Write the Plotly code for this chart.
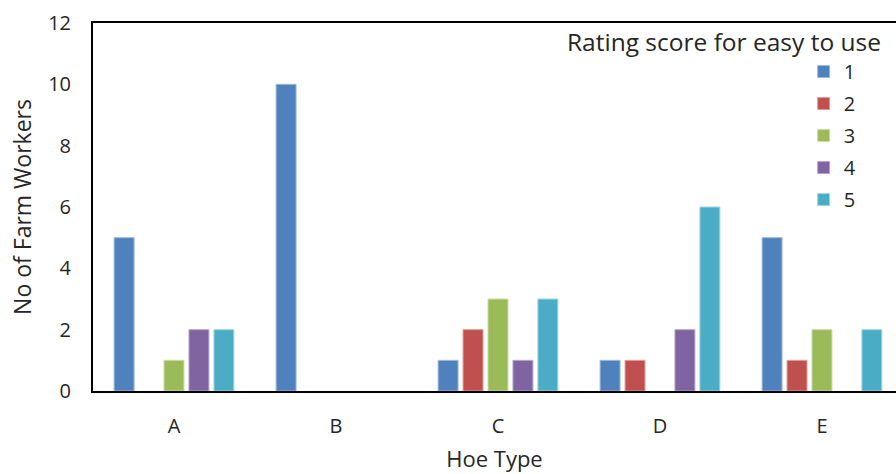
import plotly.graph_objects as go

# Number of farm workers giving each ease-of-use rating, by hoe type
hoe_types = ["A", "B", "C", "D", "E"]
ratings = ["1", "2", "3", "4", "5"]
rating_1 = [5, 10, 1, 1, 5]
rating_2 = [0, 0, 2, 1, 1]
rating_3 = [1, 0, 3, 0, 2]
rating_4 = [2, 0, 1, 2, 0]
rating_5 = [2, 0, 3, 6, 2]
y_ticks = [0, 2, 4, 6, 8, 10, 12]

series = [rating_1, rating_2, rating_3, rating_4, rating_5]
fills = ["#4F81BD", "#C0504D", "#9BBB59", "#8064A2", "#4BACC6"]
edges = ["#9DB9DE", "#E09C9A", "#C9DDA4", "#B7A5CD", "#A2D6E4"]

FONT = "Open Sans"
TEXT = "#262626"

fig = go.Figure()
for name, vals, fill, edge in zip(ratings, series, fills, edges):
    fig.add_trace(go.Bar(
        x=hoe_types,
        y=[v if v else None for v in vals],
        name=name,
        legendgroup=name,
        marker=dict(color=fill, line=dict(color=edge, width=1)),
    ))

fig.update_layout(
    width=896,
    height=474,
    margin=dict(l=93, r=0, t=23, b=83),
    paper_bgcolor="white",
    plot_bgcolor="white",
    barmode="group",
    bargap=0.23,
    bargroupgap=0.2,
    font=dict(family=FONT, color=TEXT, size=20),
    showlegend=True,
    legend=dict(
        x=0.885, y=0.921, xanchor="left", yanchor="top",
        bgcolor="rgba(0,0,0,0)",
        font=dict(size=20),
        itemwidth=30,
        tracegroupgap=3,
    ),
    annotations=[dict(
        text="Rating score for easy to use",
        xref="paper", yref="paper",
        x=0.984, y=1.0, xanchor="right", yanchor="top",
        showarrow=False,
        font=dict(size=24.5, family=FONT, color=TEXT),
    )],
)

fig.update_xaxes(
    type="category",
    range=[-0.5, 4.457],
    showline=True, linecolor="black", linewidth=2, mirror=True,
    showgrid=False, ticks="",
    tickfont=dict(size=20),
    ticklabelstandoff=16,
    title=dict(text="Hoe Type", font=dict(size=22), standoff=14),
)
fig.update_yaxes(
    range=[0, 12],
    tickvals=y_ticks,
    showline=True, linecolor="black", linewidth=2,
    showgrid=False, zeroline=False, ticks="",
    tickfont=dict(size=20),
    ticklabelstandoff=16,
    title=dict(text="No of Farm Workers", font=dict(size=23), standoff=10),
)

fig.write_html("out.html")
